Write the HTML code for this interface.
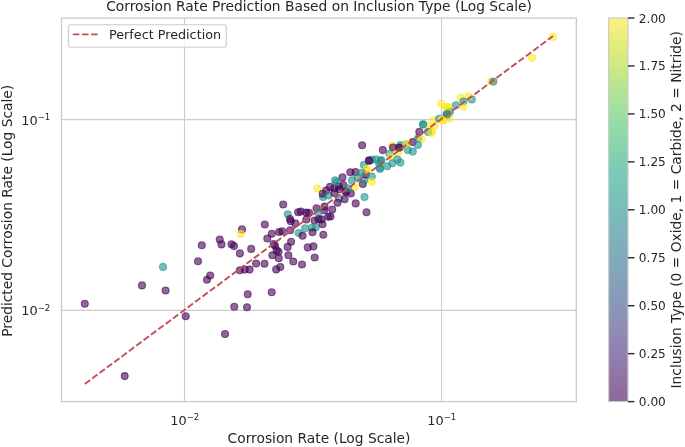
<!DOCTYPE html>
<html><head><meta charset="utf-8"><title>Corrosion Rate Prediction</title>
<style>html,body{margin:0;padding:0;background:#fff;}svg{display:block;}text{font-family:"DejaVu Sans","Liberation Sans",sans-serif;fill:#262626;}</style></head><body>
<svg width="685" height="447" viewBox="0 0 685 447">
<defs><linearGradient id="vir" x1="0" y1="1" x2="0" y2="0">
<stop offset="0" stop-color="#440154"/>
<stop offset="0.1" stop-color="#482475"/>
<stop offset="0.2" stop-color="#414487"/>
<stop offset="0.3" stop-color="#355f8d"/>
<stop offset="0.4" stop-color="#2a788e"/>
<stop offset="0.5" stop-color="#21918c"/>
<stop offset="0.6" stop-color="#22a884"/>
<stop offset="0.7" stop-color="#44bf70"/>
<stop offset="0.8" stop-color="#7ad151"/>
<stop offset="0.9" stop-color="#bddf26"/>
<stop offset="1" stop-color="#fde725"/>
</linearGradient><clipPath id="ax"><rect x="61.5" y="18" width="514.8" height="383.6"/></clipPath></defs>
<rect width="685" height="447" fill="#fff"/>
<line x1="184.5" y1="18" x2="184.5" y2="401.6" stroke="#cccccc" stroke-width="1.1"/>
<line x1="441.5" y1="18" x2="441.5" y2="401.6" stroke="#cccccc" stroke-width="1.1"/>
<line x1="61.5" y1="310.4" x2="576.3" y2="310.4" stroke="#cccccc" stroke-width="1.1"/>
<line x1="61.5" y1="119.6" x2="576.3" y2="119.6" stroke="#cccccc" stroke-width="1.1"/>
<g clip-path="url(#ax)" fill-opacity="0.6" stroke-opacity="0.6" stroke-width="1.1">
<circle cx="84.8" cy="303.8" r="3.5" fill="#440154" stroke="#440154"/>
<circle cx="142.0" cy="285.4" r="3.5" fill="#440154" stroke="#440154"/>
<circle cx="163.0" cy="266.9" r="3.5" fill="#21918c" stroke="#21918c"/>
<circle cx="165.6" cy="290.5" r="3.5" fill="#440154" stroke="#440154"/>
<circle cx="185.7" cy="316.2" r="3.5" fill="#440154" stroke="#440154"/>
<circle cx="198.0" cy="261.3" r="3.5" fill="#440154" stroke="#440154"/>
<circle cx="201.8" cy="245.3" r="3.5" fill="#440154" stroke="#440154"/>
<circle cx="207.0" cy="279.7" r="3.5" fill="#440154" stroke="#440154"/>
<circle cx="210.2" cy="275.5" r="3.5" fill="#440154" stroke="#440154"/>
<circle cx="219.7" cy="239.5" r="3.5" fill="#440154" stroke="#440154"/>
<circle cx="221.5" cy="244.4" r="3.5" fill="#440154" stroke="#440154"/>
<circle cx="124.7" cy="376.1" r="3.5" fill="#440154" stroke="#440154"/>
<circle cx="225.0" cy="334.0" r="3.5" fill="#440154" stroke="#440154"/>
<circle cx="234.3" cy="306.7" r="3.5" fill="#440154" stroke="#440154"/>
<circle cx="247.0" cy="307.2" r="3.5" fill="#440154" stroke="#440154"/>
<circle cx="247.7" cy="294.3" r="3.5" fill="#440154" stroke="#440154"/>
<circle cx="271.7" cy="292.2" r="3.5" fill="#440154" stroke="#440154"/>
<circle cx="239.9" cy="270.3" r="3.5" fill="#440154" stroke="#440154"/>
<circle cx="244.8" cy="269.6" r="3.5" fill="#440154" stroke="#440154"/>
<circle cx="249.6" cy="269.6" r="3.5" fill="#440154" stroke="#440154"/>
<circle cx="256.1" cy="263.5" r="3.5" fill="#440154" stroke="#440154"/>
<circle cx="264.5" cy="263.7" r="3.5" fill="#440154" stroke="#440154"/>
<circle cx="239.9" cy="253.4" r="3.5" fill="#440154" stroke="#440154"/>
<circle cx="251.2" cy="248.9" r="3.5" fill="#440154" stroke="#440154"/>
<circle cx="276.2" cy="269.4" r="3.5" fill="#440154" stroke="#440154"/>
<circle cx="280.3" cy="267.0" r="3.5" fill="#440154" stroke="#440154"/>
<circle cx="272.4" cy="255.2" r="3.5" fill="#440154" stroke="#440154"/>
<circle cx="278.8" cy="258.3" r="3.5" fill="#440154" stroke="#440154"/>
<circle cx="276.7" cy="250.4" r="3.5" fill="#440154" stroke="#440154"/>
<circle cx="278.5" cy="251.8" r="3.5" fill="#440154" stroke="#440154"/>
<circle cx="288.4" cy="255.2" r="3.5" fill="#440154" stroke="#440154"/>
<circle cx="293.3" cy="261.5" r="3.5" fill="#440154" stroke="#440154"/>
<circle cx="302.0" cy="264.5" r="3.5" fill="#440154" stroke="#440154"/>
<circle cx="314.7" cy="257.5" r="3.5" fill="#440154" stroke="#440154"/>
<circle cx="231.5" cy="244.3" r="3.5" fill="#440154" stroke="#440154"/>
<circle cx="234.0" cy="246.1" r="3.5" fill="#440154" stroke="#440154"/>
<circle cx="242.0" cy="229.4" r="3.5" fill="#440154" stroke="#440154"/>
<circle cx="240.8" cy="234.1" r="3.5" fill="#fde725" stroke="#fde725"/>
<circle cx="264.8" cy="224.5" r="3.5" fill="#440154" stroke="#440154"/>
<circle cx="283.2" cy="204.5" r="3.5" fill="#440154" stroke="#440154"/>
<circle cx="267.3" cy="238.5" r="3.5" fill="#440154" stroke="#440154"/>
<circle cx="271.8" cy="233.8" r="3.5" fill="#440154" stroke="#440154"/>
<circle cx="279.2" cy="232.0" r="3.5" fill="#440154" stroke="#440154"/>
<circle cx="282.3" cy="231.2" r="3.5" fill="#440154" stroke="#440154"/>
<circle cx="290.2" cy="230.3" r="3.5" fill="#440154" stroke="#440154"/>
<circle cx="273.6" cy="244.0" r="3.5" fill="#440154" stroke="#440154"/>
<circle cx="275.0" cy="245.7" r="3.5" fill="#440154" stroke="#440154"/>
<circle cx="287.6" cy="246.9" r="3.5" fill="#440154" stroke="#440154"/>
<circle cx="291.1" cy="241.7" r="3.5" fill="#440154" stroke="#440154"/>
<circle cx="287.8" cy="214.3" r="3.5" fill="#21918c" stroke="#21918c"/>
<circle cx="290.0" cy="219.0" r="3.5" fill="#440154" stroke="#440154"/>
<circle cx="290.7" cy="221.2" r="3.5" fill="#440154" stroke="#440154"/>
<circle cx="295.3" cy="223.4" r="3.5" fill="#440154" stroke="#440154"/>
<circle cx="298.1" cy="212.2" r="3.5" fill="#440154" stroke="#440154"/>
<circle cx="300.8" cy="211.6" r="3.5" fill="#440154" stroke="#440154"/>
<circle cx="306.2" cy="212.6" r="3.5" fill="#440154" stroke="#440154"/>
<circle cx="309.0" cy="212.9" r="3.5" fill="#440154" stroke="#440154"/>
<circle cx="306.3" cy="219.5" r="3.5" fill="#440154" stroke="#440154"/>
<circle cx="316.5" cy="208.3" r="3.5" fill="#440154" stroke="#440154"/>
<circle cx="314.5" cy="220.5" r="3.5" fill="#440154" stroke="#440154"/>
<circle cx="305.1" cy="228.2" r="3.5" fill="#21918c" stroke="#21918c"/>
<circle cx="312.0" cy="227.8" r="3.5" fill="#21918c" stroke="#21918c"/>
<circle cx="315.7" cy="227.4" r="3.5" fill="#21918c" stroke="#21918c"/>
<circle cx="298.7" cy="233.0" r="3.5" fill="#21918c" stroke="#21918c"/>
<circle cx="302.6" cy="235.8" r="3.5" fill="#440154" stroke="#440154"/>
<circle cx="312.5" cy="232.2" r="3.5" fill="#440154" stroke="#440154"/>
<circle cx="307.7" cy="247.4" r="3.5" fill="#440154" stroke="#440154"/>
<circle cx="313.4" cy="246.4" r="3.5" fill="#440154" stroke="#440154"/>
<circle cx="317.4" cy="188.5" r="3.5" fill="#fde725" stroke="#fde725"/>
<circle cx="323.0" cy="197.0" r="3.5" fill="#21918c" stroke="#21918c"/>
<circle cx="322.7" cy="193.8" r="3.5" fill="#440154" stroke="#440154"/>
<circle cx="326.3" cy="190.4" r="3.5" fill="#440154" stroke="#440154"/>
<circle cx="330.0" cy="186.9" r="3.5" fill="#440154" stroke="#440154"/>
<circle cx="335.1" cy="180.3" r="3.5" fill="#21918c" stroke="#21918c"/>
<circle cx="342.5" cy="177.4" r="3.5" fill="#440154" stroke="#440154"/>
<circle cx="350.3" cy="172.2" r="3.5" fill="#440154" stroke="#440154"/>
<circle cx="355.5" cy="172.0" r="3.5" fill="#440154" stroke="#440154"/>
<circle cx="351.9" cy="180.3" r="3.5" fill="#21918c" stroke="#21918c"/>
<circle cx="357.4" cy="177.3" r="3.5" fill="#21918c" stroke="#21918c"/>
<circle cx="354.5" cy="186.9" r="3.5" fill="#fde725" stroke="#fde725"/>
<circle cx="362.8" cy="183.9" r="3.5" fill="#440154" stroke="#440154"/>
<circle cx="364.2" cy="180.2" r="3.5" fill="#21918c" stroke="#21918c"/>
<circle cx="365.7" cy="174.4" r="3.5" fill="#440154" stroke="#440154"/>
<circle cx="366.4" cy="170.7" r="3.5" fill="#fde725" stroke="#fde725"/>
<circle cx="371.8" cy="176.6" r="3.5" fill="#21918c" stroke="#21918c"/>
<circle cx="371.8" cy="182.0" r="3.5" fill="#fde725" stroke="#fde725"/>
<circle cx="380.0" cy="169.0" r="3.5" fill="#21918c" stroke="#21918c"/>
<circle cx="364.5" cy="197.0" r="3.5" fill="#21918c" stroke="#21918c"/>
<circle cx="355.7" cy="203.4" r="3.5" fill="#440154" stroke="#440154"/>
<circle cx="366.5" cy="212.2" r="3.5" fill="#440154" stroke="#440154"/>
<circle cx="338.8" cy="186.2" r="3.5" fill="#440154" stroke="#440154"/>
<circle cx="343.3" cy="185.0" r="3.5" fill="#440154" stroke="#440154"/>
<circle cx="328.5" cy="195.5" r="3.5" fill="#21918c" stroke="#21918c"/>
<circle cx="334.4" cy="193.0" r="3.5" fill="#440154" stroke="#440154"/>
<circle cx="345.7" cy="192.0" r="3.5" fill="#440154" stroke="#440154"/>
<circle cx="346.5" cy="191.5" r="3.5" fill="#440154" stroke="#440154"/>
<circle cx="350.8" cy="193.5" r="3.5" fill="#440154" stroke="#440154"/>
<circle cx="348.2" cy="188.2" r="3.5" fill="#21918c" stroke="#21918c"/>
<circle cx="339.2" cy="198.2" r="3.5" fill="#21918c" stroke="#21918c"/>
<circle cx="344.6" cy="199.3" r="3.5" fill="#440154" stroke="#440154"/>
<circle cx="337.5" cy="202.8" r="3.5" fill="#440154" stroke="#440154"/>
<circle cx="332.2" cy="209.5" r="3.5" fill="#440154" stroke="#440154"/>
<circle cx="324.5" cy="206.6" r="3.5" fill="#440154" stroke="#440154"/>
<circle cx="324.2" cy="210.3" r="3.5" fill="#440154" stroke="#440154"/>
<circle cx="318.3" cy="212.4" r="3.5" fill="#21918c" stroke="#21918c"/>
<circle cx="318.6" cy="219.3" r="3.5" fill="#440154" stroke="#440154"/>
<circle cx="321.5" cy="219.4" r="3.5" fill="#440154" stroke="#440154"/>
<circle cx="328.2" cy="216.8" r="3.5" fill="#440154" stroke="#440154"/>
<circle cx="330.5" cy="216.5" r="3.5" fill="#440154" stroke="#440154"/>
<circle cx="322.5" cy="224.3" r="3.5" fill="#440154" stroke="#440154"/>
<circle cx="323.3" cy="234.8" r="3.5" fill="#440154" stroke="#440154"/>
<circle cx="362.1" cy="145.3" r="3.5" fill="#440154" stroke="#440154"/>
<circle cx="382.8" cy="150.1" r="3.5" fill="#440154" stroke="#440154"/>
<circle cx="392.3" cy="145.8" r="3.5" fill="#fde725" stroke="#fde725"/>
<circle cx="393.0" cy="147.5" r="3.5" fill="#440154" stroke="#440154"/>
<circle cx="399.6" cy="147.2" r="3.5" fill="#440154" stroke="#440154"/>
<circle cx="400.4" cy="145.0" r="3.5" fill="#21918c" stroke="#21918c"/>
<circle cx="406.2" cy="144.3" r="3.5" fill="#21918c" stroke="#21918c"/>
<circle cx="412.8" cy="142.1" r="3.5" fill="#440154" stroke="#440154"/>
<circle cx="417.9" cy="138.5" r="3.5" fill="#21918c" stroke="#21918c"/>
<circle cx="419.3" cy="131.9" r="3.5" fill="#440154" stroke="#440154"/>
<circle cx="423.0" cy="124.6" r="3.5" fill="#21918c" stroke="#21918c"/>
<circle cx="428.8" cy="126.1" r="3.5" fill="#fde725" stroke="#fde725"/>
<circle cx="433.9" cy="120.2" r="3.5" fill="#fde725" stroke="#fde725"/>
<circle cx="431.8" cy="131.9" r="3.5" fill="#fde725" stroke="#fde725"/>
<circle cx="428.1" cy="131.9" r="3.5" fill="#21918c" stroke="#21918c"/>
<circle cx="434.7" cy="126.1" r="3.5" fill="#fde725" stroke="#fde725"/>
<circle cx="421.5" cy="139.2" r="3.5" fill="#fde725" stroke="#fde725"/>
<circle cx="417.9" cy="145.0" r="3.5" fill="#21918c" stroke="#21918c"/>
<circle cx="412.8" cy="151.6" r="3.5" fill="#21918c" stroke="#21918c"/>
<circle cx="407.7" cy="150.1" r="3.5" fill="#21918c" stroke="#21918c"/>
<circle cx="398.2" cy="152.3" r="3.5" fill="#fde725" stroke="#fde725"/>
<circle cx="389.4" cy="153.8" r="3.5" fill="#21918c" stroke="#21918c"/>
<circle cx="390.9" cy="156.7" r="3.5" fill="#fde725" stroke="#fde725"/>
<circle cx="397.4" cy="159.6" r="3.5" fill="#21918c" stroke="#21918c"/>
<circle cx="400.4" cy="162.6" r="3.5" fill="#21918c" stroke="#21918c"/>
<circle cx="392.3" cy="163.3" r="3.5" fill="#21918c" stroke="#21918c"/>
<circle cx="387.2" cy="166.2" r="3.5" fill="#21918c" stroke="#21918c"/>
<circle cx="379.9" cy="167.7" r="3.5" fill="#21918c" stroke="#21918c"/>
<circle cx="381.4" cy="160.4" r="3.5" fill="#21918c" stroke="#21918c"/>
<circle cx="376.3" cy="159.6" r="3.5" fill="#21918c" stroke="#21918c"/>
<circle cx="369.0" cy="160.4" r="3.5" fill="#440154" stroke="#440154"/>
<circle cx="371.9" cy="159.6" r="3.5" fill="#21918c" stroke="#21918c"/>
<circle cx="363.9" cy="164.7" r="3.5" fill="#21918c" stroke="#21918c"/>
<circle cx="366.8" cy="169.1" r="3.5" fill="#fde725" stroke="#fde725"/>
<circle cx="361.7" cy="172.8" r="3.5" fill="#21918c" stroke="#21918c"/>
<circle cx="443.4" cy="120.2" r="3.5" fill="#fde725" stroke="#fde725"/>
<circle cx="439.1" cy="118.8" r="3.5" fill="#21918c" stroke="#21918c"/>
<circle cx="446.4" cy="114.4" r="3.5" fill="#21918c" stroke="#21918c"/>
<circle cx="447.8" cy="111.5" r="3.5" fill="#fde725" stroke="#fde725"/>
<circle cx="491.5" cy="81.6" r="3.5" fill="#fde725" stroke="#fde725"/>
<circle cx="493.4" cy="81.6" r="3.5" fill="#21918c" stroke="#21918c"/>
<circle cx="471.8" cy="99.4" r="3.5" fill="#21918c" stroke="#21918c"/>
<circle cx="468.5" cy="96.2" r="3.5" fill="#fde725" stroke="#fde725"/>
<circle cx="460.6" cy="97.7" r="3.5" fill="#fde725" stroke="#fde725"/>
<circle cx="463.5" cy="101.6" r="3.5" fill="#21918c" stroke="#21918c"/>
<circle cx="463.5" cy="106.7" r="3.5" fill="#fde725" stroke="#fde725"/>
<circle cx="455.8" cy="105.3" r="3.5" fill="#21918c" stroke="#21918c"/>
<circle cx="441.2" cy="103.8" r="3.5" fill="#fde725" stroke="#fde725"/>
<circle cx="446.3" cy="107.0" r="3.5" fill="#fde725" stroke="#fde725"/>
<circle cx="448.5" cy="107.0" r="3.5" fill="#fde725" stroke="#fde725"/>
<circle cx="449.9" cy="111.8" r="3.5" fill="#21918c" stroke="#21918c"/>
<circle cx="447.0" cy="115.2" r="3.5" fill="#21918c" stroke="#21918c"/>
<circle cx="449.2" cy="118.4" r="3.5" fill="#fde725" stroke="#fde725"/>
<circle cx="441.9" cy="119.9" r="3.5" fill="#fde725" stroke="#fde725"/>
<circle cx="553.0" cy="36.9" r="3.5" fill="#fde725" stroke="#fde725"/>
<circle cx="532.1" cy="58.1" r="3.5" fill="#fde725" stroke="#fde725"/>
<circle cx="334.3" cy="188.3" r="3.5" fill="#440154" stroke="#440154"/>
<circle cx="339.3" cy="189.2" r="3.5" fill="#440154" stroke="#440154"/>
<circle cx="336.5" cy="182.3" r="3.5" fill="#21918c" stroke="#21918c"/>
<circle cx="380.7" cy="160.5" r="3.5" fill="#21918c" stroke="#21918c"/>
<circle cx="379.2" cy="163.8" r="3.5" fill="#21918c" stroke="#21918c"/>
<circle cx="369.1" cy="160.8" r="3.5" fill="#440154" stroke="#440154"/>
<circle cx="406.2" cy="144.1" r="3.5" fill="#fde725" stroke="#fde725"/>
<circle cx="399.0" cy="147.8" r="3.5" fill="#440154" stroke="#440154"/>
<circle cx="447.3" cy="107.3" r="3.5" fill="#fde725" stroke="#fde725"/>
<circle cx="442.7" cy="120.5" r="3.5" fill="#fde725" stroke="#fde725"/>
<circle cx="431.5" cy="133.0" r="3.5" fill="#fde725" stroke="#fde725"/>
<circle cx="423.2" cy="124.2" r="3.5" fill="#21918c" stroke="#21918c"/>
<circle cx="447.3" cy="113.9" r="3.5" fill="#21918c" stroke="#21918c"/>
</g>
<line x1="84.8" y1="384" x2="553" y2="36" stroke="#c44e52" stroke-width="1.9" stroke-dasharray="6.6 2.56"/>
<rect x="61.5" y="18" width="514.8" height="383.6" fill="none" stroke="#cccccc" stroke-width="1.4"/>
<rect x="68.3" y="24.8" width="158" height="22.4" rx="2.5" ry="2.5" fill="#fff" fill-opacity="0.8" stroke="#cccccc" stroke-width="1.1"/>
<line x1="72.8" y1="34.4" x2="98.2" y2="34.4" stroke="#c44e52" stroke-width="1.9" stroke-dasharray="6.6 2.56"/>
<text x="109.0" y="39.2" font-size="12.75">Perfect Prediction</text>
<text x="184.8" y="424.9" font-size="12.9" text-anchor="middle">10<tspan font-size="8.6" dy="-4.7">−2</tspan></text>
<text x="441.8" y="424.9" font-size="12.9" text-anchor="middle">10<tspan font-size="8.6" dy="-4.7">−1</tspan></text>
<text x="50.3" y="124.6" font-size="12.9" text-anchor="end">10<tspan font-size="8.6" dy="-4.7">−1</tspan></text>
<text x="50.3" y="315.4" font-size="12.9" text-anchor="end">10<tspan font-size="8.6" dy="-4.7">−2</tspan></text>
<text x="319" y="10.9" font-size="13.8" text-anchor="middle">Corrosion Rate Prediction Based on Inclusion Type (Log Scale)</text>
<text x="319" y="443.2" font-size="13.8" text-anchor="middle">Corrosion Rate (Log Scale)</text>
<text transform="translate(12.0,210.8) rotate(-90)" font-size="13.8" text-anchor="middle">Predicted Corrosion Rate (Log Scale)</text>
<rect x="608.6" y="18" width="19.4" height="383.6" fill="url(#vir)" fill-opacity="0.6"/>
<rect x="608.6" y="18" width="19.4" height="383.6" fill="none" stroke="#cccccc" stroke-width="1.2"/>
<line x1="628" y1="401.6" x2="634.5" y2="401.6" stroke="#262626" stroke-width="1.4"/>
<text x="638.8" y="406.1" font-size="12.15">0.00</text>
<line x1="628" y1="353.65" x2="634.5" y2="353.65" stroke="#262626" stroke-width="1.4"/>
<text x="638.8" y="358.15" font-size="12.15">0.25</text>
<line x1="628" y1="305.7" x2="634.5" y2="305.7" stroke="#262626" stroke-width="1.4"/>
<text x="638.8" y="310.2" font-size="12.15">0.50</text>
<line x1="628" y1="257.75" x2="634.5" y2="257.75" stroke="#262626" stroke-width="1.4"/>
<text x="638.8" y="262.25" font-size="12.15">0.75</text>
<line x1="628" y1="209.8" x2="634.5" y2="209.8" stroke="#262626" stroke-width="1.4"/>
<text x="638.8" y="214.3" font-size="12.15">1.00</text>
<line x1="628" y1="161.85" x2="634.5" y2="161.85" stroke="#262626" stroke-width="1.4"/>
<text x="638.8" y="166.35" font-size="12.15">1.25</text>
<line x1="628" y1="113.9" x2="634.5" y2="113.9" stroke="#262626" stroke-width="1.4"/>
<text x="638.8" y="118.4" font-size="12.15">1.50</text>
<line x1="628" y1="65.95" x2="634.5" y2="65.95" stroke="#262626" stroke-width="1.4"/>
<text x="638.8" y="70.45" font-size="12.15">1.75</text>
<line x1="628" y1="18" x2="634.5" y2="18" stroke="#262626" stroke-width="1.4"/>
<text x="638.8" y="22.5" font-size="12.15">2.00</text>
<text transform="translate(681,209.8) rotate(-90)" font-size="13.8" text-anchor="middle">Inclusion Type (0 = Oxide, 1 = Carbide, 2 = Nitride)</text>
</svg></body></html>
